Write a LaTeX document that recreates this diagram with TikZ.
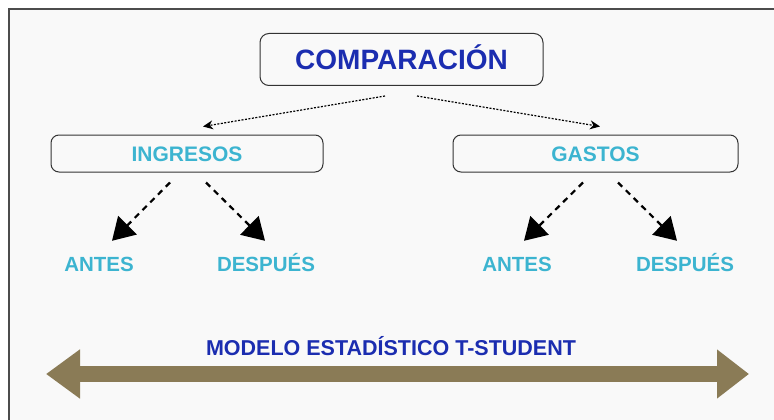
\documentclass[tikz,border=0pt]{standalone}
\usepackage{fontspec}
\setmainfont{Liberation Sans}
\usepackage{xcolor}
\usetikzlibrary{arrows.meta,positioning}
\definecolor{cmpblue}{RGB}{27,45,176}
\definecolor{cmpcyan}{RGB}{60,180,208}
\definecolor{cmpolive}{RGB}{138,123,86}
\definecolor{cmpback}{RGB}{249,249,249}

\begin{document}
\begin{tikzpicture}[
    x=1pt, y=-1pt,
    topbox/.style={rectangle, draw=black!80, line width=1pt, rounded corners=9pt, minimum width=283pt, minimum height=52pt, text height=20pt, text depth=0pt, font=\fontsize{28}{30}\selectfont\bfseries, text=cmpblue},
    midbox/.style={rectangle, draw=black!80, line width=1pt, rounded corners=8pt, minimum height=37pt, text height=15pt, text depth=0pt, font=\fontsize{21}{24}\selectfont\bfseries, text=cmpcyan},
    leaf/.style={inner sep=0pt, anchor=base, text height=15pt, text depth=0pt, font=\fontsize{20.5}{24}\selectfont\bfseries, text=cmpcyan},
    dotarrow/.style={-{Stealth[length=10pt,width=9pt]}, line width=1.2pt, dash pattern=on 2pt off 1.5pt},
    dasharrow/.style={-{Triangle[length=22pt,width=26pt]}, line width=2.2pt, dash pattern=on 6pt off 5pt},
    bigarrow/.style={{Triangle[length=34pt,width=47pt]}-{Triangle[length=32pt,width=47pt]}, line width=16pt, draw=cmpolive}
]
    \useasboundingbox (0,0) rectangle (774,420);
    \fill[white] (0,0) rectangle (774,420);
    \fill[cmpback] (9,9) rectangle (774,420);
    \draw[black!70, line width=1.2pt] (9,420) -- (9,9) -- (774,9);

    \node[topbox] (comp) at (401.5,59.5) {COMPARACIÓN};

    \node[midbox, minimum width=272pt] (ingresos) at (187,153.5) {INGRESOS};
    \node[midbox, minimum width=285pt] (gastos) at (595.5,153.5) {GASTOS};

    \node[leaf] (antesI) at (99,271) {ANTES};
    \node[leaf] (despuesI) at (266,271) {DESPUÉS};
    \node[leaf] (antesG) at (517,271) {ANTES};
    \node[leaf] (despuesG) at (685,271) {DESPUÉS};

    \draw[dotarrow] ([xshift=-16.5pt,yshift=-10pt]comp.south) -- ([xshift=16pt,yshift=8pt]ingresos.north);
    \draw[dotarrow] ([xshift=15.5pt,yshift=-10pt]comp.south) -- ([xshift=4.5pt,yshift=8pt]gastos.north);

    \draw[dasharrow] ([xshift=-17pt,yshift=-10pt]ingresos.south) -- ([xshift=13pt,yshift=15pt]antesI.north);
    \draw[dasharrow] ([xshift=19pt,yshift=-10pt]ingresos.south) -- ([xshift=-1pt,yshift=15pt]despuesI.north);
    \draw[dasharrow] ([xshift=-12.5pt,yshift=-10pt]gastos.south) -- ([xshift=7pt,yshift=15pt]antesG.north);
    \draw[dasharrow] ([xshift=22.5pt,yshift=-10pt]gastos.south) -- ([xshift=-8pt,yshift=15pt]despuesG.north);

    \node[anchor=base, inner sep=0pt, font=\fontsize{21.5}{24}\selectfont\bfseries, text=cmpblue] (modelo) at (391,355) {MODELO ESTADÍSTICO T-STUDENT};
    \coordinate (lend) at (46,374);
    \coordinate (rend) at (749,374);
    \draw[bigarrow] (lend) -- (rend);
\end{tikzpicture}
\end{document}
